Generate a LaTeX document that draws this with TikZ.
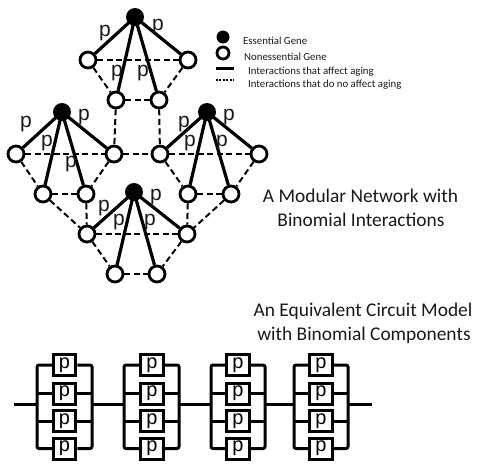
\documentclass[tikz,border=0pt]{standalone}
\usepackage{fontspec}
\setmainfont{Carlito}
\newfontfamily\pfont{Liberation Sans}
\definecolor{txt}{gray}{0.1}
\tikzset{
  gene/.style={circle,draw=black,line width=2.8pt,fill=white,minimum size=16pt,inner sep=0pt},
  essential/.style={circle,fill=black,minimum size=18pt,inner sep=0pt},
  affect/.style={line width=3.2pt,black},
  noaffect/.style={line width=2pt,black,dash pattern=on 6pt off 3.5pt},
  plabel/.style={font=\pfont\fontsize{21}{21}\selectfont,inner sep=0pt,text=txt},
  pbox/.style={draw=black,line width=3pt,fill=white,minimum width=22.5pt,minimum height=21pt,inner sep=0pt,font=\pfont\fontsize{20}{20}\selectfont},
  wire/.style={line width=3pt,black,rounded corners=2pt},
  legendtext/.style={anchor=west,inner sep=0pt,text=txt,font=\fontsize{10.8}{12}\selectfont},
  bigtext/.style={anchor=base,inner sep=0pt,text=txt,font=\fontsize{19.4}{22}\selectfont}
}
\begin{document}
\begin{tikzpicture}[x=1pt,y=-1pt]
\useasboundingbox (0,0) rectangle (485,475);
% genes: name / E / L / R / BL / BR
\foreach \n/\ex/\ey/\lx/\ly/\rx/\ry/\blx/\bly/\brx/\bry in {
  T/135/17/88/60/188/60/116/100/159/100,
  A/62/112/16/154/114/154/43/194/86/194,
  B/207/112/160/154/259/154/188/194/231/194,
  C/134/192/87/234/187/234/115/274/157/274}{
  \node[essential] (\n e) at (\ex,\ey) {};
  \node[gene] (\n l) at (\lx,\ly) {};
  \node[gene] (\n r) at (\rx,\ry) {};
  \node[gene] (\n p) at (\blx,\bly) {};
  \node[gene] (\n q) at (\brx,\bry) {};
  \draw[affect] (\n e.center) -- (\n l);
  \draw[affect] (\n e.center) -- (\n r);
  \draw[affect] (\n e.center) -- (\n p);
  \draw[affect] (\n e.center) -- (\n q);
  \draw[noaffect] (\n l) -- (\n r);
  \draw[noaffect] (\n l) -- (\n p);
  \draw[noaffect] (\n r) -- (\n q);
  \draw[noaffect] (\n p) -- (\n q);
}
\draw[noaffect] (Tp) -- (Ar);
\draw[noaffect] (Tq) -- (Bl);
\draw[noaffect] (Ar) -- (Bl);
\draw[noaffect] (Ap) -- (Cl);
\draw[noaffect] (Aq) -- (Cl);
\draw[noaffect] (Bp) -- (Cr);
\draw[noaffect] (Bq) -- (Cr);
% p labels
\foreach \i/\x/\y in {1/105/33,2/158/27,3/117/73,4/143/73,5/26/124,6/84/117,7/47/143,8/71/164,
  9/184/124,10/229/117,11/190/143,12/222/143,13/104/208,14/156/197,15/119/222,16/150/222}{
  \node[plabel] (pl\i) at (\x,\y) {p};
}
% legend
\node[essential,minimum size=13pt] (le) at (223,37) {};
\node[gene,minimum size=12pt] (lo) at (223,53) {};
\coordinate (s1) at (216,68); \coordinate (s2) at (234,68);
\coordinate (d1) at (216,80); \coordinate (d2) at (234,80);
\draw[line width=3pt] (s1) -- (s2);
\draw[line width=1.8pt,dash pattern=on 2pt off 1.4pt] (d1) -- (d2);
\node[legendtext] (t1) at (243,41) {Essential Gene};
\node[legendtext] (t2) at (244,57) {Nonessential Gene};
\node[legendtext] (t3) at (248,72) {Interactions that affect aging};
\node[legendtext] (t4) at (248,85) {Interactions that do no affect aging};
% titles
\node[bigtext] (h1) at (360.5,202) {A Modular Network with};
\node[bigtext] (h2) at (361,226) {Binomial Interactions};
\node[bigtext] (h3) at (363,316.5) {An Equivalent Circuit Model};
\node[bigtext] (h4) at (364,340) {with Binomial Components};
% circuit
\coordinate (start) at (14,404);
\coordinate (end) at (372,404);
\foreach \m/\cx/\vl/\vr in {a/64.5/37/92,b/152/124/179,c/238/211/265,d/321/294/348}{
  \node[pbox] (\m1) at (\cx,365) {p};
  \node[pbox] (\m2) at (\cx,393.5) {p};
  \node[pbox] (\m3) at (\cx,421) {p};
  \node[pbox] (\m4) at (\cx,448.5) {p};
  \coordinate (\m l) at (\vl,404);
  \coordinate (\m r) at (\vr,404);
  \draw[wire] (\m1.west) -| (\m l) |- (\m4.west);
  \draw[wire] (\m1.east) -| (\m r) |- (\m4.east);
  \draw[wire] (\m2.west) -- (\m2.west -| \m l);
  \draw[wire] (\m3.west) -- (\m3.west -| \m l);
  \draw[wire] (\m2.east) -- (\m2.east -| \m r);
  \draw[wire] (\m3.east) -- (\m3.east -| \m r);
}
\draw[wire] (start) -- (al);
\draw[wire] (ar) -- (bl);
\draw[wire] (br) -- (cl);
\draw[wire] (cr) -- (dl);
\draw[wire] (dr) -- (end);
\end{tikzpicture}
\end{document}
